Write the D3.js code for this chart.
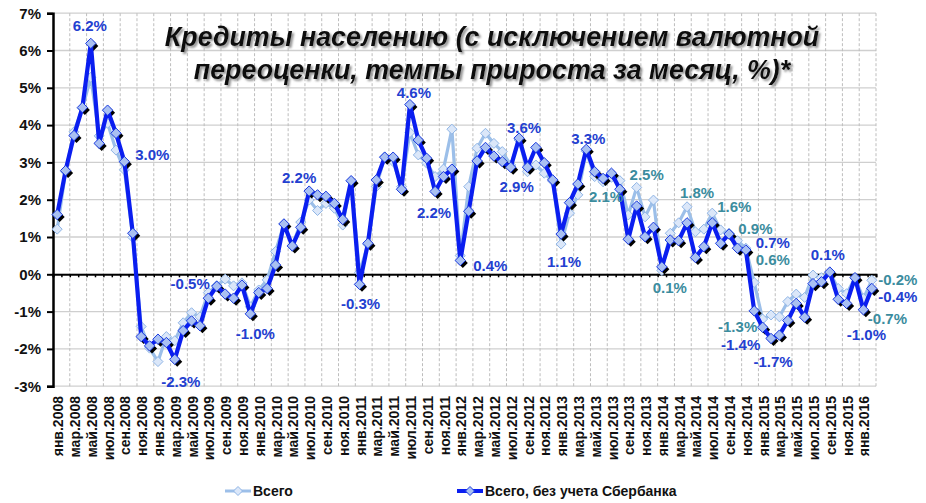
<!DOCTYPE html>
<html>
<head>
<meta charset="utf-8">
<script src="https://cdn.jsdelivr.net/npm/d3@7"></script>
<style>
  body { margin: 0; background: #fff; }
  svg { font-family: "Liberation Sans", Arial, sans-serif; }
</style>
</head>
<body>
<svg id="chart" width="926" height="503"></svg>
<script>
// month names for the category axis, first month янв.2008
var monthNames = ['янв','фев','мар','апр','май','июн','июл','авг','сен','окт','ноя','дек']
var startYear = 2008
var nMonths = 98   // янв.2008 ... фев.2016

// "Всего" (light series)
var vsego = [1.21, 2.75, 3.82, 4.45, 5.28, 3.71, 4.05, 3.33, 2.80, 0.99,
  -1.40, -1.98, -2.34, -1.67, -1.78, -1.30, -1.03, -1.14, -0.49, -0.30,
  -0.13, -0.31, -0.23, -0.87, -0.42, -0.15, 0.61, 1.35, 0.75, 1.40,
  1.99, 1.71, 1.90, 1.77, 1.32, 2.50, 0.05, 0.80, 2.35, 3.15,
  3.02, 2.35, 3.80, 3.20, 2.98, 2.62, 2.82, 3.89, 0.50, 2.35,
  3.38, 3.78, 3.51, 3.29, 2.93, 3.60, 2.75, 2.93, 2.71, 2.50,
  0.81, 1.64, 2.13, 3.30, 2.62, 2.48, 2.60, 2.51, 1.59, 2.33,
  1.54, 1.99, 0.10, 1.10, 1.38, 1.81, 1.14, 1.21, 1.64, 1.19,
  1.10, 0.90, 0.70, -0.22, -1.20, -1.09, -1.14, -0.73, -0.53, -0.62,
  -0.02, -0.09, 0.05, -0.38, -0.52, -0.10, -0.65, -0.16]

// "Всего, без учета Сбербанка" (dark series)
var bezSber = [1.60, 2.78, 3.72, 4.47, 6.19, 3.51, 4.40, 3.78, 3.02, 1.10,
  -1.67, -1.92, -1.74, -1.83, -2.28, -1.51, -1.25, -1.38, -0.64, -0.32,
  -0.53, -0.64, -0.29, -1.06, -0.49, -0.38, 0.25, 1.35, 0.76, 1.26,
  2.23, 2.13, 2.09, 1.90, 1.47, 2.51, -0.27, 0.83, 2.53, 3.14,
  3.14, 2.28, 4.55, 3.60, 3.11, 2.22, 2.62, 2.82, 0.37, 1.69,
  3.04, 3.40, 3.17, 3.02, 2.87, 3.65, 2.87, 3.40, 2.99, 2.53,
  1.08, 1.92, 2.42, 3.35, 2.75, 2.57, 2.71, 2.28, 0.94, 1.83,
  1.01, 1.26, 0.20, 0.92, 0.90, 1.38, 0.45, 0.74, 1.38, 0.83,
  1.08, 0.70, 0.65, -0.98, -1.42, -1.72, -1.63, -1.24, -0.78, -1.15,
  -0.25, -0.20, 0.06, -0.67, -0.78, -0.09, -0.95, -0.38]

var yTicks = [-3, -2, -1, 0, 1, 2, 3, 4, 5, 6, 7]

// data labels: series (0 = Всего, 1 = без Сбербанка), month index, text
var labelSeries = [1, 1, 1, 1, 1, 1, 1, 1, 1, 1, 1, 1, 1, 1, 0, 0, 0, 0, 0, 0, 1, 0, 0, 1, 1, 1, 1, 0, 1, 0]
var labelIndex  = [4, 8, 30, 20, 14, 23, 42, 36, 45, 48, 55, 54, 60, 63, 65, 69, 72, 75, 78, 81, 82, 82, 84, 84, 85, 92, 96, 96, 97, 97]
var labelText   = ['6.2%', '3.0%', '2.2%', '-0.5%', '-2.3%', '-1.0%', '4.6%', '-0.3%', '2.2%', '0.4%',
  '3.6%', '2.9%', '1.1%', '3.3%', '2.1%', '2.5%', '0.1%', '1.8%', '1.6%', '0.9%',
  '0.7%', '0.6%', '-1.3%', '-1.4%', '-1.7%', '0.1%', '-1.0%', '-0.7%', '-0.4%', '-0.2%']
// where each label sits relative to its point (px)
var labelDx = [-1, 28, -10, -35, 6, 5, 4, 1, -1, 30, 5, 6, 3, 2, 3, 10, 8, 10, 22, 18, 27, 27, -25, -22, 2, -2, 3, 24, 26, 26]
var labelDy = [-18, -7, -14, -10, 22, 20, -12, 19, 21, 5, -11, 19, 28, -11, 15, -13, 17, -14, -7, -12, -7, 11, 8, 17, 23, -17, 25, 20, 8, -1]

var categories = []
for (var i = 0; i < nMonths; i++) {
  categories.push(monthNames[i % 12] + '.' + (startYear + Math.floor(i / 12)))
}

var svg = d3.select('#chart')
var plotLeft = 53, plotRight = 876, plotTop = 13.2, plotBottom = 386.2

var x = d3.scaleBand().domain(categories).range([plotLeft, plotRight]).padding(0)
var xEdge = d3.scaleLinear().domain([0, nMonths]).range([plotLeft, plotRight])
var y = d3.scaleLinear().domain([-3, 7]).range([plotBottom, plotTop])
var cx = function(i) { return x(categories[i]) + x.bandwidth() / 2 }

var lightCol = '#9cbfe9', darkCol = '#0a1ef0'
var blueText = '#2340d0', tealText = '#3b8c9e'

// soft shadow for the title
var shadow = svg.append('defs').append('filter').attr('id', 'tshadow')
  .attr('x', '-5%').attr('y', '-20%').attr('width', '110%').attr('height', '150%')
shadow.append('feDropShadow')
  .attr('dx', 2).attr('dy', 2).attr('stdDeviation', 1.2)
  .attr('flood-color', '#777').attr('flood-opacity', 0.8)

// horizontal grid
svg.append('g').selectAll('line').data(yTicks).enter().append('line')
  .attr('x1', plotLeft).attr('x2', plotRight)
  .attr('y1', function(d) { return y(d) }).attr('y2', function(d) { return y(d) })
  .style('stroke', '#cfcfcf').style('stroke-width', 1.3)

// vertical dashed grid, every second month
var vEdges = d3.range(2, nMonths + 1, 2)
svg.append('g').selectAll('line').data(vEdges).enter().append('line')
  .attr('x1', function(d) { return xEdge(d) }).attr('x2', function(d) { return xEdge(d) })
  .attr('y1', plotTop).attr('y2', plotBottom)
  .style('stroke', '#bdbdbd').style('stroke-width', 1)
  .attr('stroke-dasharray', '3,2')

// zero line with month ticks
svg.append('g')
  .attr('transform', 'translate(0,' + y(0) + ')')
  .call(d3.axisBottom(xEdge).tickValues(d3.range(0, nMonths + 1)).tickSize(3).tickFormat(''))
  .call(function(g) {
    g.select('.domain').attr('stroke', '#000').attr('stroke-width', 2)
    g.selectAll('.tick line').attr('stroke', '#000').attr('stroke-width', 1.5)
  })

// y axis
svg.append('g')
  .attr('transform', 'translate(' + plotLeft + ',0)')
  .call(d3.axisLeft(y).tickValues(yTicks).tickSize(6).tickPadding(6)
    .tickFormat(function(d) { return d + '%' }))
  .call(function(g) {
    g.select('.domain').attr('stroke', '#000').attr('stroke-width', 2.5)
    g.selectAll('.tick line').attr('stroke', '#000').attr('stroke-width', 2)
    g.selectAll('.tick text').style('font-size', '15px').style('font-weight', 'bold')
      .style('fill', '#111').style('font-family', '"Liberation Sans", Arial, sans-serif')
  })

// x labels every second month
var xLabs = categories.filter(function(d, i) { return i % 2 == 0 })
svg.append('g').selectAll('text').data(xLabs).enter().append('text')
  .attr('transform', function(d) { return 'translate(' + (x(d) + x.bandwidth() / 2 + 1) + ',396) rotate(-90)' })
  .attr('dy', '0.36em')
  .attr('text-anchor', 'end')
  .style('font-size', '14px').style('font-weight', 'bold').style('fill', '#111')
  .text(function(d) { return d })

var diamond = function(r) { return 'M0,' + (-r) + 'L' + r + ',0L0,' + r + 'L' + (-r) + ',0Z' }

var line = d3.line()
  .x(function(d, i) { return cx(i) })
  .y(function(d) { return y(d) })

// light series
svg.append('path').datum(vsego)
  .attr('d', line).attr('fill', 'none')
  .attr('stroke', lightCol).attr('stroke-width', 3.2).attr('stroke-linejoin', 'round')

svg.append('g').selectAll('path').data(vsego).enter().append('path')
  .attr('transform', function(d, i) { return 'translate(' + cx(i) + ',' + y(d) + ')' })
  .attr('d', diamond(5))
  .attr('fill', '#dbe7f9').attr('stroke', '#8fb5e6').attr('stroke-width', 1)

// dark series: shadow, line, markers
svg.append('g').selectAll('path').data(bezSber).enter().append('path')
  .attr('transform', function(d, i) { return 'translate(' + (cx(i) + 2.5) + ',' + (y(d) + 2.5) + ')' })
  .attr('d', diamond(5))
  .attr('fill', '#000')

svg.append('path').datum(bezSber)
  .attr('d', line).attr('fill', 'none')
  .attr('stroke', darkCol).attr('stroke-width', 4.2).attr('stroke-linejoin', 'round')

svg.append('g').selectAll('path').data(bezSber).enter().append('path')
  .attr('transform', function(d, i) { return 'translate(' + cx(i) + ',' + y(d) + ')' })
  .attr('d', diamond(5.2))
  .attr('fill', '#a9c0f2').attr('stroke', '#1a3adf').attr('stroke-width', 1)

// data labels
var series = [vsego, bezSber]
svg.append('g').selectAll('text').data(labelText).enter().append('text')
  .attr('x', function(d, k) { return cx(labelIndex[k]) + labelDx[k] })
  .attr('y', function(d, k) { return y(series[labelSeries[k]][labelIndex[k]]) + labelDy[k] })
  .attr('dy', '0.36em')
  .attr('text-anchor', 'middle')
  .style('font-size', '15px').style('font-weight', 'bold')
  .style('fill', function(d, k) { return labelSeries[k] == 1 ? blueText : tealText })
  .text(function(d) { return d })

// title
var titleLines = ['Кредиты населению (с исключением валютной', 'переоценки, темпы прироста за месяц, %)*']
svg.append('g').attr('filter', 'url(#tshadow)')
  .selectAll('text').data(titleLines).enter().append('text')
  .attr('x', 492).attr('y', function(d, i) { return 46 + i * 33 })
  .attr('text-anchor', 'middle')
  .style('font-size', '26.8px').style('font-weight', 'bold').style('font-style', 'italic')
  .style('fill', '#111')
  .text(function(d) { return d })

// legend
var legendNames = ['Всего', 'Всего, без учета Сбербанка']
var legendX = [225, 457]
var legend = svg.append('g').selectAll('g').data(legendNames).enter().append('g')
  .attr('transform', function(d, i) { return 'translate(' + legendX[i] + ',491)' })
legend.append('line')
  .attr('x1', 0).attr('x2', 26).attr('y1', 0).attr('y2', 0)
  .attr('stroke', function(d, i) { return i == 0 ? lightCol : darkCol })
  .attr('stroke-width', function(d, i) { return i == 0 ? 3 : 4 })
legend.append('path')
  .attr('transform', 'translate(13,0)')
  .attr('d', diamond(4.5))
  .attr('fill', function(d, i) { return i == 0 ? '#dbe7f9' : '#a9c0f2' })
  .attr('stroke', function(d, i) { return i == 0 ? '#8fb5e6' : '#1a3adf' })
legend.append('text')
  .attr('x', 28).attr('y', 0).attr('dy', '0.36em')
  .style('font-size', '14px').style('font-weight', 'bold').style('fill', '#111')
  .text(function(d) { return d })
</script>
</body>
</html>
